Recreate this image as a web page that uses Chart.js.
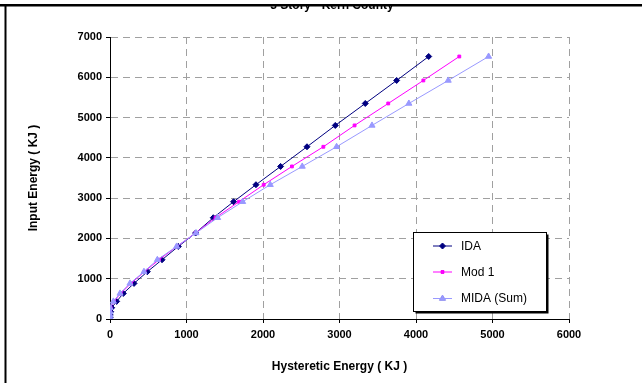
<!DOCTYPE html>
<html><head><meta charset="utf-8">
<script src="https://cdn.jsdelivr.net/npm/chart.js@4"></script>
<style>html,body{margin:0;padding:0;background:#fff}#wrap{width:642px;height:383px}</style>
</head><body><div id="wrap"><canvas id="c" width="642" height="383"></canvas></div>
<script>
const chartTitle = "3 Story - Kern County";
const xTitle = "Hysteretic Energy ( KJ )";
const yTitle = "Input Energy ( KJ )";
const seriesNames = ["IDA", "Mod 1", "MIDA (Sum)"];
const inputEnergy = [0, 40, 100, 180, 280, 437, 635, 884, 1174, 1471, 1801, 2134, 2514, 2911, 3333, 3787, 4275, 4805, 5350, 5921, 6516];
const idaHyst  = [0, 1, 3, 9, 22, 87, 174, 314, 488, 680, 893, 1119, 1350, 1615, 1908, 2230, 2575, 2945, 3337, 3747, 4166];
const mod1Hyst = [0, 0, 0, 2, 8, 50, 140, 275, 450, 640, 875, 1119, 1380, 1686, 2009, 2378, 2789, 3197, 3637, 4096, 4566];
const midaHyst = [0, 0, 0, 0, 0, 44, 131, 261, 444, 619, 871, 1124, 1407, 1734, 2095, 2513, 2962, 3425, 3907, 4421, 4949];

const colors = ["#000080", "#FF00FF", "#9999FF"];
const styles = ["rectRot", "rect", "triangle"];
const radii = [3, 2, 3.5];

function pts(xs){ return xs.map((x,i)=>({x:x, y:inputEnergy[i]})); }

const decor = {
  id: 'decor',
  beforeDraw(chart){
    const ctx = chart.ctx;
    ctx.save(); ctx.fillStyle = '#fff'; ctx.fillRect(0,0,chart.width,chart.height); ctx.restore();
  },
  afterDraw(chart){
    const ctx = chart.ctx;
    ctx.save();
    // title (top clipped by frame)
    ctx.font = 'bold 12px "Liberation Sans", Arial, sans-serif';
    ctx.fillStyle = '#000';
    ctx.textAlign = 'center'; ctx.textBaseline = 'alphabetic';
    ctx.fillText(chartTitle, 332, 9);
    ctx.fillStyle = '#fff'; ctx.fillRect(0,0,chart.width,4);
    ctx.fillStyle = '#000'; ctx.fillRect(0,4,chart.width,2.5);
    ctx.fillRect(4.5,4,2,chart.height);
    // legend
    const lx = 413.5, ly = 232.5, lw = 133, lh = 79;
    ctx.fillStyle = '#000';
    ctx.fillRect(lx+2, ly+2, lw, lh);
    ctx.fillStyle = '#fff';
    ctx.fillRect(lx, ly, lw, lh);
    ctx.strokeStyle = '#000'; ctx.lineWidth = 1;
    ctx.strokeRect(lx, ly, lw, lh);
    const rows = [246, 272, 298.5];
    chart.data.datasets.forEach((ds, i) => {
      const y = rows[i];
      ctx.strokeStyle = ds.borderColor; ctx.lineWidth = 1;
      ctx.beginPath(); ctx.moveTo(433, y); ctx.lineTo(452, y); ctx.stroke();
      Chart.helpers.drawPoint(ctx, {pointStyle: ds.pointStyle, radius: ds.pointRadius, borderWidth: 1, rotation: 0}, 442.5, y);
      ctx.fillStyle = ds.borderColor;
      ctx.fill();
      ctx.fillStyle = '#000';
      ctx.font = '12px "Liberation Sans", Arial, sans-serif';
      ctx.textAlign = 'left'; ctx.textBaseline = 'middle';
      ctx.fillText(ds.label, 461, y + 0.5);
    });
    ctx.restore();
  }
};

const tickFont = {family: '"Liberation Sans", Arial, sans-serif', size: 11, weight: 'bold'};
const titleFont = {family: '"Liberation Sans", Arial, sans-serif', size: 12, weight: 'bold'};
const plain = v => String(v);
const datasets = [idaHyst, mod1Hyst, midaHyst].map((xs, i) => ({
  label: seriesNames[i],
  data: pts(xs),
  showLine: true,
  borderColor: colors[i],
  backgroundColor: colors[i],
  borderWidth: 1,
  pointStyle: styles[i],
  pointRadius: radii[i],
  pointBorderWidth: 1,
  pointHoverRadius: radii[i],
  order: 3 - i
}));

new Chart(document.getElementById('c'), {
  type: 'scatter',
  data: { datasets },
  options: {
    responsive: false,
    animation: false,
    devicePixelRatio: 1,
    layout: { padding: { left: 0, right: 73, top: 37, bottom: 0 } },
    plugins: { legend: {display: false}, tooltip: {enabled: false}, title: {display: false} },
    scales: {
      x: {
        type: 'linear', min: 0, max: 6000,
        ticks: { stepSize: 1000, color: '#000', font: tickFont, padding: 5, maxRotation: 0, callback: plain },
        grid: { color: '#a0a0a0', lineWidth: 1, drawTicks: true, tickLength: 4, tickColor: '#000' },
        border: { display: true, color: '#000', width: 1, dash: [7,5] },
        title: { display: true, text: xTitle, color: '#000', font: titleFont, padding: {top: 0, bottom: 9} },
        afterFit(s){ s.height = 64; }
      },
      y: {
        type: 'linear', min: 0, max: 7000,
        ticks: { stepSize: 1000, color: '#000', font: tickFont, padding: 4, callback: plain },
        grid: { color: '#a0a0a0', lineWidth: 1, drawTicks: true, tickLength: 4, tickColor: '#000' },
        border: { display: true, color: '#000', width: 1, dash: [7,5] },
        title: { display: true, text: yTitle, color: '#000', font: titleFont, padding: {top: 26, bottom: 0} },
        afterFit(s){ s.width = 110; }
      }
    }
  },
  plugins: [decor]
});
</script>
</body></html>
